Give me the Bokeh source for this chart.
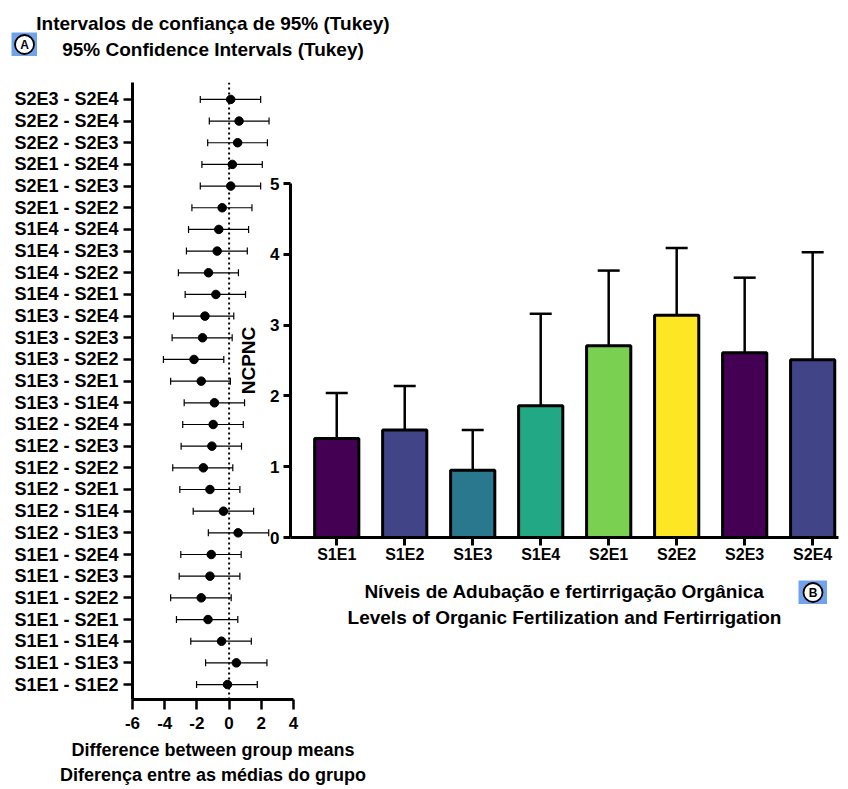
from bokeh.plotting import figure
from bokeh.models import (Range1d, FixedTicker, Whisker, TeeHead, ColumnDataSource,
                          Span, Title, LinearAxis)
from bokeh.core.properties import value
from bokeh.embed import file_html
from bokeh.resources import INLINE
import numpy as np

FONT = "Liberation Sans"

# ---------------- Panel A data (Tukey 95% CIs), top to bottom ----------------
comparisons = [
    "S2E3 - S2E4", "S2E2 - S2E4", "S2E2 - S2E3", "S2E1 - S2E4", "S2E1 - S2E3",
    "S2E1 - S2E2", "S1E4 - S2E4", "S1E4 - S2E3", "S1E4 - S2E2", "S1E4 - S2E1",
    "S1E3 - S2E4", "S1E3 - S2E3", "S1E3 - S2E2", "S1E3 - S2E1", "S1E3 - S1E4",
    "S1E2 - S2E4", "S1E2 - S2E3", "S1E2 - S2E2", "S1E2 - S2E1", "S1E2 - S1E4",
    "S1E2 - S1E3", "S1E1 - S2E4", "S1E1 - S2E3", "S1E1 - S2E2", "S1E1 - S2E1",
    "S1E1 - S1E4", "S1E1 - S1E3", "S1E1 - S1E2",
]
diff_means = [0.10, 0.62, 0.53, 0.20, 0.10, -0.43, -0.64, -0.74, -1.28, -0.82,
              -1.50, -1.65, -2.18, -1.73, -0.91, -0.99, -1.07, -1.60, -1.19, -0.35,
              0.56, -1.11, -1.19, -1.73, -1.31, -0.47, 0.45, -0.10]
ci_lower = [-1.79, -1.23, -1.33, -1.69, -1.79, -2.31, -2.52, -2.65, -3.15, -2.73,
            -3.46, -3.54, -4.08, -3.63, -2.79, -2.88, -2.98, -3.50, -3.06, -2.23,
            -1.29, -3.00, -3.10, -3.63, -3.27, -2.38, -1.46, -2.02]
ci_upper = [1.96, 2.48, 2.38, 2.06, 1.96, 1.42, 1.21, 1.13, 0.58, 1.02,
            0.29, 0.19, -0.33, 0.08, 0.96, 0.88, 0.77, 0.23, 0.67, 1.52,
            2.46, 0.75, 0.67, 0.13, 0.54, 1.38, 2.35, 1.75]
diff_ticks = [-6, -4, -2, 0, 2, 4]

# ---------------- Panel B data ----------------
groups = ["S1E1", "S1E2", "S1E3", "S1E4", "S2E1", "S2E2", "S2E3", "S2E4"]
group_means = [1.40, 1.52, 0.95, 1.86, 2.71, 3.14, 2.61, 2.51]
group_sd = [0.64, 0.62, 0.57, 1.30, 1.06, 0.95, 1.06, 1.52]
bar_colors = ["#440154", "#414487", "#2a788e", "#22a884",
              "#7ad151", "#fde725", "#440154", "#414487"]
ncpnc_ticks = [0, 1, 2, 3, 4, 5]

badge_letters = ["A", "B"]

BADGE = "#72a2ec"
W, H = 832, 781


def title(text, size="19px", standoff=4):
    return Title(text=text, align="center", text_font=FONT, text_font_style="bold",
                 text_font_size=size, text_color="black", standoff=standoff)


def style_axis(ax, tick_w, tick_out, lab_size, standoff):
    ax.axis_line_width = 3
    ax.axis_line_color = "black"
    ax.major_tick_line_width = tick_w
    ax.major_tick_line_color = "black"
    ax.major_tick_in = 0
    ax.major_tick_out = tick_out
    ax.minor_tick_line_color = None
    ax.major_label_text_font = FONT
    ax.major_label_text_font_style = "bold"
    ax.major_label_text_font_size = lab_size
    ax.major_label_text_color = "black"
    ax.major_label_standoff = standoff


def style_label(ax, text, size, standoff):
    ax.axis_label = text
    ax.axis_label_text_font = FONT
    ax.axis_label_text_font_style = "bold"
    ax.axis_label_text_font_size = size
    ax.axis_label_text_color = "black"
    ax.axis_label_standoff = standoff


def place(left, top):
    return {"position": "absolute", "left": f"{left}px", "top": f"{top}px"}


# ================= Panel A =================
n = len(comparisons)
ypos = list(range(n - 1, -1, -1))
srcA = ColumnDataSource(dict(y=ypos, m=diff_means, lo=ci_lower, hi=ci_upper))

pA = figure(width=W, height=H, x_range=Range1d(-6, 4),
            y_range=Range1d(-0.69, n - 1 + 0.78),
            output_backend="svg", toolbar_location=None,
            min_border_left=124, min_border_right=W - 285,
            min_border_top=72, min_border_bottom=H - 691,
            styles=place(8, 8))
pA.outline_line_color = None
pA.grid.visible = False

pA.add_layout(Span(location=0, dimension="height", line_color="black",
                   line_width=2, line_dash="2 3"))
pA.add_layout(Whisker(source=srcA, base="y", lower="lo", upper="hi",
                      dimension="width", line_color="black", line_width=1.2,
                      lower_head=TeeHead(size=7, line_width=1.2, line_color="black"),
                      upper_head=TeeHead(size=7, line_width=1.2, line_color="black")))
pA.scatter("m", "y", source=srcA, size=8.5, color="black")

ya = pA.yaxis[0]
ya.ticker = FixedTicker(ticks=ypos)
ya.major_label_overrides = {int(i): lab for i, lab in zip(ypos, comparisons)}
style_axis(ya, 2.5, 9, "18px", 5)
xa = pA.xaxis[0]
xa.ticker = FixedTicker(ticks=diff_ticks)
xa.major_label_overrides = {int(t): str(t) for t in diff_ticks}
style_axis(xa, 2.5, 10, "17px", 7)
style_label(xa, "Difference between group means", "18px", 8)

# top caption line 2 carried by a bare axis above the frame
top_ax = LinearAxis(ticker=FixedTicker(ticks=[]), axis_line_color=None,
                    major_tick_out=0, major_tick_in=0, minor_tick_line_color=None,
                    major_label_standoff=0, major_label_text_font_size="0px")
style_label(top_ax, "95% Confidence Intervals (Tukey)", "19px", 23)
pA.add_layout(top_ax, "above")
pA.add_layout(title("Intervalos de confiança de 95% (Tukey)", "19px", 4), "above")
pA.add_layout(title("Diferença entre as médias do grupo", "18px", 0), "below")

# ================= Panel B =================
xpos = np.arange(len(groups))
upper = np.array(group_means) + np.array(group_sd)
srcB = ColumnDataSource(dict(x=xpos, top=group_means, up=upper, color=bar_colors))

pB = figure(width=W, height=H, x_range=Range1d(-0.68, 7.38), y_range=Range1d(0, 5),
            output_backend="svg", toolbar_location=None,
            min_border_left=282, min_border_right=2,
            min_border_top=175, min_border_bottom=H - 529,
            styles=place(8, 8))
pB.background_fill_alpha = 0
pB.border_fill_alpha = 0
pB.outline_line_color = None
pB.grid.visible = False

pB.add_layout(Whisker(source=srcB, base="x", lower="top", upper="up",
                      dimension="height", line_color="black", line_width=2.5,
                      lower_head=None,
                      upper_head=TeeHead(size=22, line_width=2.5, line_color="black")))
pB.vbar(x="x", top="top", width=0.65, source=srcB, fill_color="color",
        line_color="black", line_width=3)

yb = pB.yaxis[0]
yb.ticker = FixedTicker(ticks=ncpnc_ticks)
style_axis(yb, 3, 7, "17px", 4)
style_label(yb, "NCPNC", "19px", 8)
xb = pB.xaxis[0]
xb.ticker = FixedTicker(ticks=list(xpos))
xb.major_label_overrides = {int(i): g for i, g in zip(xpos, groups)}
style_axis(xb, 3, 8, "16px", 0)
style_label(xb, "Níveis de Adubação e fertirrigação Orgânica", "19px", 15)
pB.add_layout(title("Levels of Organic Fertilization and Fertirrigation", "19px", 0), "below")


# ================= Badges (A, B) =================
def badge(letter, left, top, w, h):
    b = figure(width=w, height=h, x_range=Range1d(0, 1), y_range=Range1d(0, 1),
               x_axis_type=None, y_axis_type=None, output_backend="svg",
               toolbar_location=None, min_border=0, styles=place(left, top))
    b.background_fill_color = BADGE
    b.border_fill_color = BADGE
    b.outline_line_color = None
    b.grid.visible = False
    b.scatter([0.5], [0.5], size=19, fill_color="white", line_color="black",
              line_width=1.8)
    b.text([0.5], [0.5], text=[letter], text_align="center", text_baseline="middle",
           text_font=value(FONT), text_font_style="bold", text_font_size="12px",
           text_color="black")
    return b


bA = badge(badge_letters[0], 11, 32, 26, 24)
bB = badge(badge_letters[1], 798, 580, 29, 24)

open("out.html", "w").write(file_html([pA, pB, bA, bB], INLINE))
